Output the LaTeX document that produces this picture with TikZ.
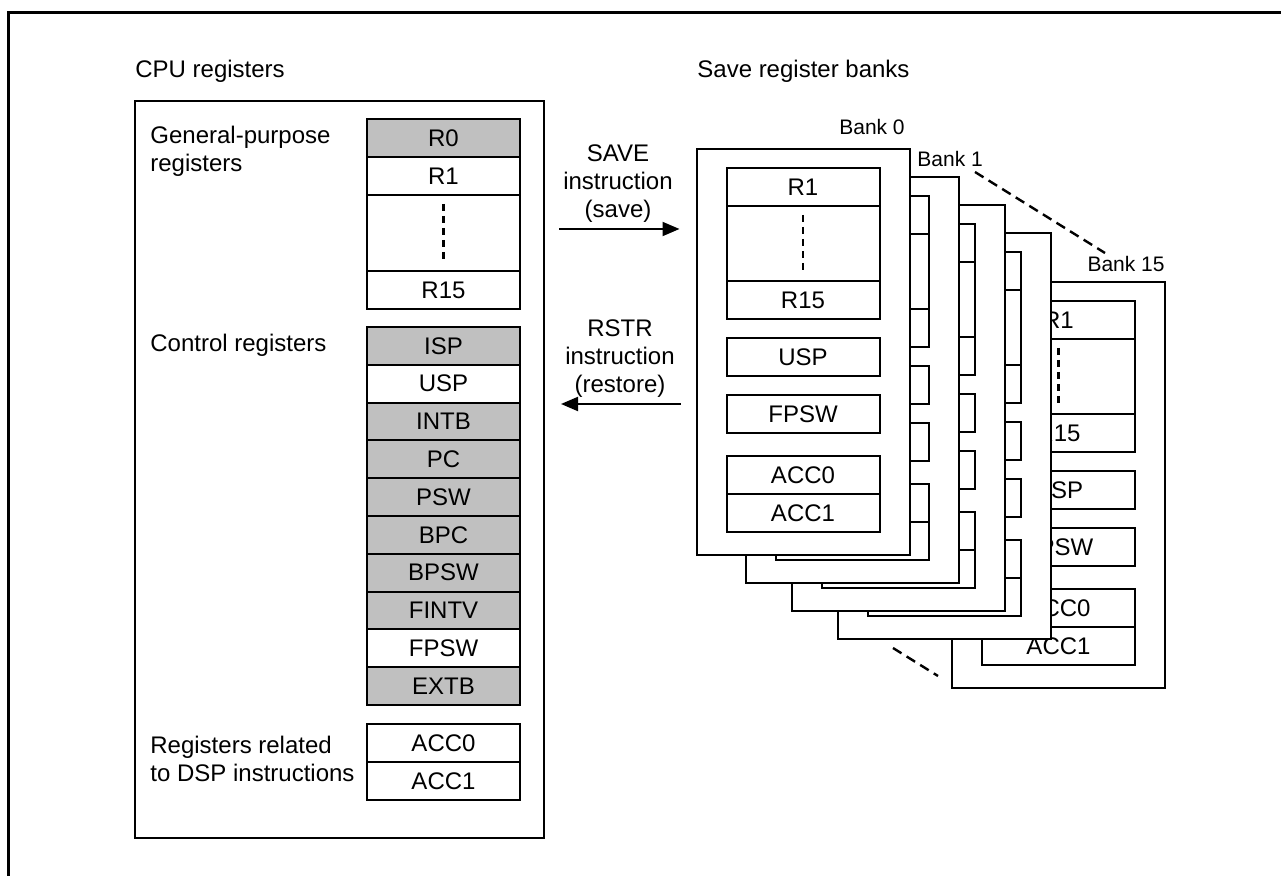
\documentclass[tikz,border=0pt]{standalone}
\usepackage{fontspec}
\setmainfont{Liberation Sans}
\usetikzlibrary{arrows.meta}
\definecolor{reggray}{HTML}{C0C0C0}
\tikzset{
  reg/.style={draw, line width=1pt, minimum width=76.5pt, minimum height=19pt, inner sep=0pt, fill=white, font=\fontsize{12}{14}\selectfont},
  creg/.style={reg, minimum height=18.9pt},
  greg/.style={fill=reggray},
  dotsbox/.style={reg, minimum height=38pt},
  vdots/.style={line width=1.25pt, dash pattern=on 3.5pt off 2.5pt},
  bankbox/.style={draw, line width=1pt, fill=white, minimum width=106.5pt, minimum height=203pt, inner sep=0pt, anchor=north west},
  lbl/.style={font=\fontsize{12}{14}\selectfont, inner sep=0pt},
  banklbl/.style={font=\fontsize{10.5}{12}\selectfont, inner sep=0pt},
  arr/.style={line width=1pt, -{Triangle[length=8.5pt,width=7pt]}},
  conn/.style={line width=1.2pt, dash pattern=on 5pt off 3pt},
}
\newcommand\regbank[4]{%
  \node[bankbox] (#1) at (#2,#3) {};
  \node[reg] (#1r1) at (#2+107.5,#3+39) {\ifnum#4=1 R1\fi};
  \node[dotsbox] (#1dots) at (#2+107.5,#3+96) {};
  \draw[vdots] ([yshift=-5pt]#1dots.north) -- ([yshift=6.5pt]#1dots.south);
  \node[reg] (#1r15) at (#2+107.5,#3+152.5) {\ifnum#4=1 R15\fi};
  \node[reg] (#1usp) at (#2+107.5,#3+209) {\ifnum#4=1 USP\fi};
  \node[reg] (#1fpsw) at (#2+107.5,#3+266) {\ifnum#4=1 FPSW\fi};
  \node[reg] (#1acc0) at (#2+107.5,#3+327) {\ifnum#4=1 ACC0\fi};
  \node[reg] (#1acc1) at (#2+107.5,#3+365) {\ifnum#4=1 ACC1\fi};
}
\begin{document}
\begin{tikzpicture}[x=0.5pt,y=-0.5pt]
\useasboundingbox (0,0) rectangle (1281,876);
% outer frame
\draw[line width=1.5pt] (8,876) -- (8,12.5) -- (1281,12.5);

% titles
\node[lbl, anchor=base west] (tcpu) at (135,78) {CPU registers};
\node[lbl, anchor=base west] (tsave) at (697,78) {Save register banks};

% CPU register box
\node[draw, line width=1pt, minimum width=204.5pt, minimum height=368.5pt, inner sep=0pt, anchor=north west] (cpu) at (134,100) {};

\node[lbl, anchor=base west, align=left] (lgp) at (150,172) {General-purpose\\registers};
\node[lbl, anchor=base west] (lctl) at (150,352) {Control registers};
\node[lbl, anchor=base west, align=left] (ldsp) at (150,782) {Registers related\\to DSP instructions};

% general-purpose
\node[reg, greg] (r0) at (443.5,138) {R0};
\node[reg] (r1) at (443.5,176) {R1};
\node[dotsbox] (rdots) at (443.5,233) {};
\draw[vdots] ([yshift=-5pt]rdots.north) -- ([yshift=6.5pt]rdots.south);
\node[reg] (r15) at (443.5,290) {R15};

% control
\node[creg, greg] (isp) at (443.5,345.9) {ISP};
\node[creg] (usp) at (443.5,383.7) {USP};
\node[creg, greg] (intb) at (443.5,421.5) {INTB};
\node[creg, greg] (pc) at (443.5,459.3) {PC};
\node[creg, greg] (psw) at (443.5,497.1) {PSW};
\node[creg, greg] (bpc) at (443.5,534.9) {BPC};
\node[creg, greg] (bpsw) at (443.5,572.7) {BPSW};
\node[creg, greg] (fintv) at (443.5,610.5) {FINTV};
\node[creg] (fpsw) at (443.5,648.3) {FPSW};
\node[creg, greg] (extb) at (443.5,686.1) {EXTB};

% DSP
\node[reg] (acc0) at (443.5,743) {ACC0};
\node[reg] (acc1) at (443.5,781) {ACC1};

% banks (back to front)
\regbank{bf}{951}{281}{1}
\regbank{bc}{836.5}{232}{0}
\regbank{bb}{791}{204}{0}
\regbank{ba}{745}{176}{0}
\regbank{bz}{695.5}{148}{1}

% bank labels
\node[banklbl, anchor=base] (lb0) at (872,135) {Bank 0};
\node[banklbl, anchor=base west] (lb1) at (917,167) {Bank 1};
\node[banklbl, anchor=base east] (lb15) at (1165,272) {Bank 15};

% dashed ellipsis connectors
\coordinate (d1a) at (975,172);
\coordinate (d1b) at (1105,253);
\draw[conn] (d1a) -- (d1b);
\coordinate (d2a) at (893,648);
\coordinate (d2b) at (938,676);
\draw[conn] (d2a) -- (d2b);

% save / restore
\node[lbl, anchor=base, align=center] (tsv) at (618,218) {SAVE\\instruction\\(save)};
\draw[arr, shorten <=7pt, shorten >=8pt] (cpu.east |- 0,229) -- (bz.west |- 0,229);
\node[lbl, anchor=base, align=center] (trs) at (620,393) {RSTR\\instruction\\(restore)};
\draw[arr, shorten <=7.5pt, shorten >=8pt] (bz.west |- 0,404) -- (cpu.east |- 0,404);
\end{tikzpicture}
\end{document}
